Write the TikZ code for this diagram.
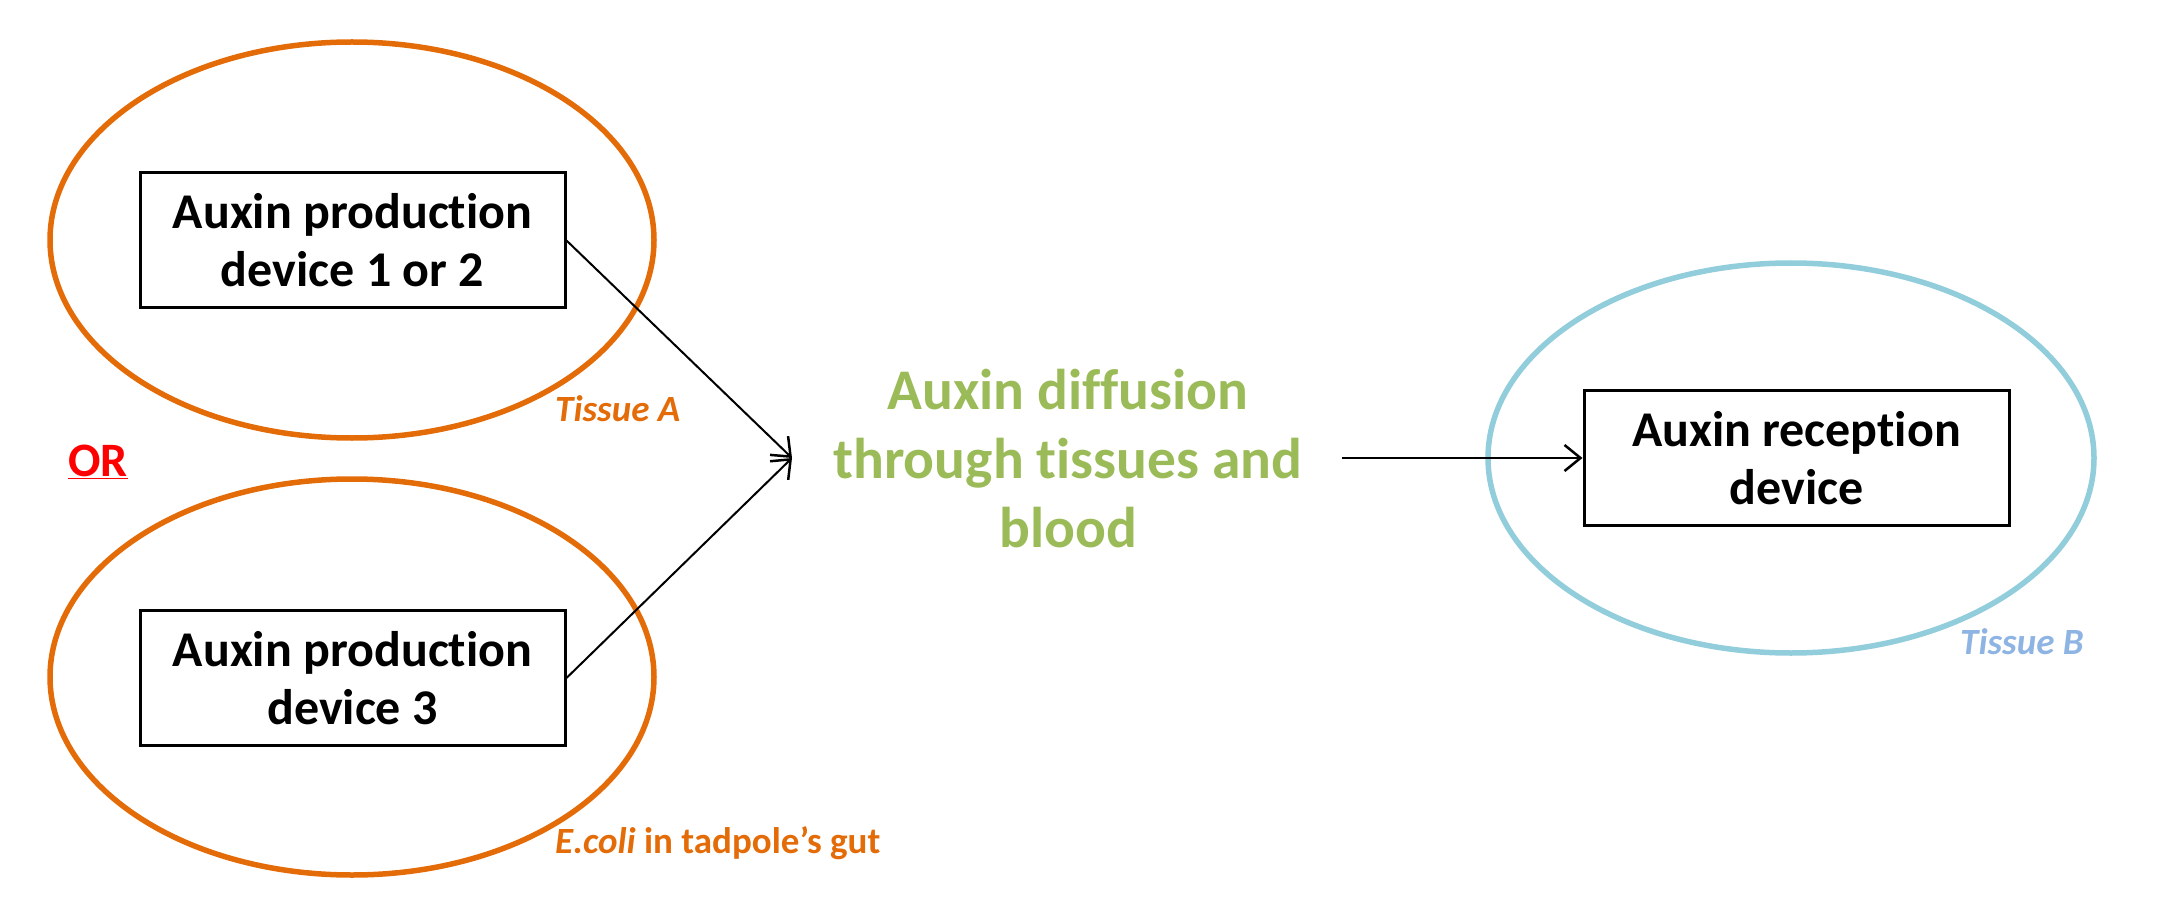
\documentclass[tikz,border=0pt]{standalone}
\usepackage{fontspec}
\setmainfont{Carlito}[RawFeature={-liga,-clig,-calt,-dlig}]
\usetikzlibrary{shapes.geometric,arrows.meta}
\definecolor{orng}{HTML}{E36C09}
\definecolor{grn}{HTML}{9BBB59}
\definecolor{lblue}{HTML}{92CDDC}
\definecolor{tblue}{HTML}{8EB4E3}
\newcommand\tI{t\kern0pt i}
\newcommand\fF{f\kern0pt f}
\tikzset{
  tissue/.style={draw=#1, line width=5.5pt, shape=ellipse, inner sep=0pt, minimum width=604pt, minimum height=396pt},
  devbox/.style={draw=black, line width=3pt, inner sep=0pt, minimum width=425pt, minimum height=135pt, align=center, font=\fontsize{50}{58}\selectfont\bfseries},
  conn/.style={line width=2pt, -{Straight Barb[length=16pt, width=26pt, line width=2.5pt]}},
  lbl/.style={font=\fontsize{37}{44}\selectfont\bfseries, anchor=west, inner sep=0pt}
}
\begin{document}
\begin{tikzpicture}[x=1pt, y=-1pt]
\useasboundingbox (0,0) rectangle (2174,909);
\node[tissue=orng] (ellA) at (352,240) {};
\node[tissue=orng] (ellC) at (352,677) {};
\node[tissue=lblue, minimum width=606pt, minimum height=390pt] (ellB) at (1791,458) {};
\node[devbox] (box1) at (352.5,240.5) {Auxin produc\tI on\\device 1 or 2};
\node[devbox] (box2) at (352.5,678) {Auxin produc\tI on\\device 3};
\node[devbox] (box3) at (1796.5,458) {Auxin recep\tI on\\device};
\node[align=center, text=grn, font=\fontsize{57.5}{69}\selectfont\bfseries] (diff) at (1068,459) {Auxin di\fF usion\\through \tI ssues and\\blood};
\coordinate (tip) at (792,458);
\coordinate (src) at (1342,458);
\draw[conn] (box1.east) -- (tip);
\draw[conn] (box2.east) -- (tip);
\draw[conn] (src) -- (box3.west);
\node[lbl, text=orng] (tA) at (555,409) {\itshape Tissue A};
\node[lbl, text=orng] (tC) at (555,843) {\textit{E.coli} in tadpole’s gut};
\node[lbl, text=tblue] (tB) at (1960,642) {\itshape Tissue B};
\node[text=red, font=\fontsize{48}{56}\selectfont\bfseries, inner sep=0pt] (or) at (98,462) {\underline{OR}};
\end{tikzpicture}
\end{document}
